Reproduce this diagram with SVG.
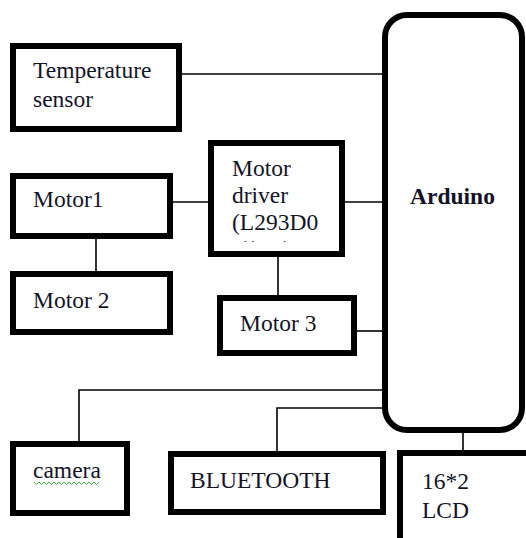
<svg xmlns="http://www.w3.org/2000/svg" width="526" height="538" viewBox="0 0 526 538">
<defs>
<style>
.box{fill:#fff;stroke:#000;stroke-width:6}
.ln{fill:none;stroke:#000;stroke-width:1.6}
.t{font-family:"Liberation Serif","Times New Roman",serif;font-size:23.5px;fill:#141428}
.b{font-weight:bold}
</style>
<clipPath id="drvclip"><rect x="214" y="146" width="126" height="96"/></clipPath>
</defs>
<rect width="526" height="538" fill="#fff"/>
<g id="connectors">
<line class="ln" x1="182" y1="74" x2="383" y2="74"/>
<line class="ln" x1="173" y1="202" x2="208" y2="202"/>
<line class="ln" x1="345" y1="202" x2="383" y2="202"/>
<line class="ln" x1="96" y1="239" x2="96" y2="271"/>
<line class="ln" x1="278" y1="257" x2="278" y2="295"/>
<line class="ln" x1="357" y1="331" x2="383" y2="331"/>
<polyline class="ln" points="79,441 79,390 383,390"/>
<polyline class="ln" points="277,451 277,408 383,408"/>
<line class="ln" x1="463" y1="425" x2="463" y2="450"/>
</g>
<g id="temperature">
<rect class="box" x="13" y="46" width="166" height="83"/>
<text class="t" x="33" y="78">Temperature</text>
<text class="t" x="33" y="107">sensor</text>
</g>
<g id="motor1">
<rect class="box" x="13" y="176" width="157" height="60"/>
<text class="t" x="33" y="207">Motor1</text>
</g>
<g id="motor2">
<rect class="box" x="13" y="274" width="157" height="58"/>
<text class="t" x="33" y="308">Motor 2</text>
</g>
<g id="driver">
<rect class="box" x="211" y="143" width="131" height="111"/>
<g clip-path="url(#drvclip)">
<text class="t" x="232" y="176">Motor</text>
<text class="t" x="232" y="203">driver</text>
<text class="t" x="232" y="230">(L293D0</text>
<text class="t" x="232" y="257">0))02)</text>
</g>
</g>
<g id="arduino">
<rect class="box" x="385" y="15" width="137" height="415" rx="22" ry="22"/>
<text class="t b" x="410" y="204">Arduino</text>
</g>
<g id="motor3">
<rect class="box" x="220" y="298" width="134" height="55"/>
<text class="t" x="240" y="331">Motor 3</text>
</g>
<g id="camera">
<rect class="box" x="13" y="444" width="114" height="69"/>
<text class="t" x="33" y="478">camera</text>
<path d="M34,482 l2.5,2.5 2.5,-2.5 2.5,2.5 2.5,-2.5 2.5,2.5 2.5,-2.5 2.5,2.5 2.5,-2.5 2.5,2.5 2.5,-2.5 2.5,2.5 2.5,-2.5 2.5,2.5 2.5,-2.5 2.5,2.5 2.5,-2.5 2.5,2.5 2.5,-2.5 2.5,2.5 2.5,-2.5 2.5,2.5 2.5,-2.5 2.5,2.5 2.5,-2.5 2.5,2.5 2.5,-2.5" fill="none" stroke="#3cb043" stroke-width="1"/>
</g>
<g id="bluetooth">
<rect class="box" x="171" y="454" width="212" height="58"/>
<text class="t" x="190" y="488">BLUETOOTH</text>
</g>
<g id="lcd">
<rect class="box" x="400" y="453" width="140" height="100"/>
<text class="t" x="422" y="489">16*2</text>
<text class="t" x="422" y="518">LCD</text>
</g>
</svg>
